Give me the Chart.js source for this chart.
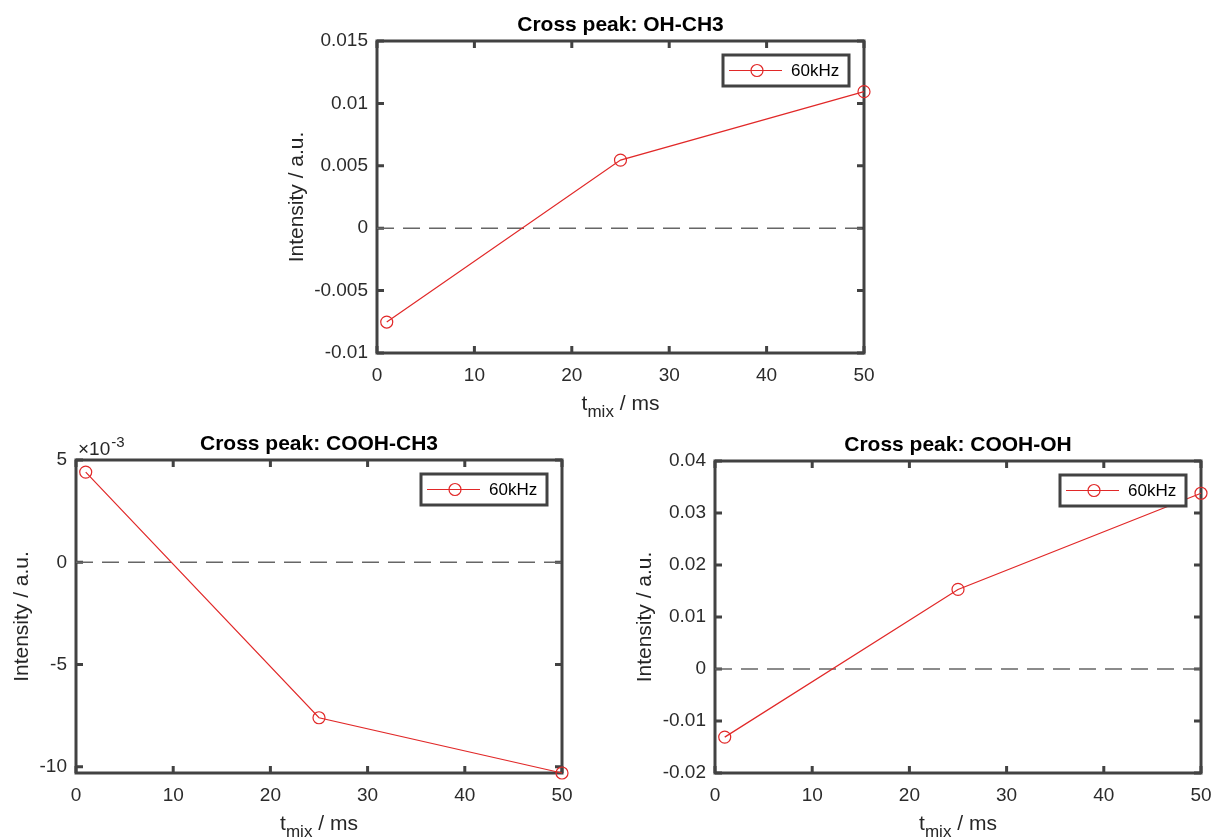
<!DOCTYPE html>
<html>
<head>
<meta charset="utf-8">
<script src="https://cdn.jsdelivr.net/npm/chart.js@4"></script>
<style>
  body { margin: 0; background: #fff; }
  canvas { position: absolute; }
</style>
</head>
<body>
<canvas id="c1" width="620" height="420" style="left:270px;top:0px"></canvas>
<canvas id="c2" width="600" height="415" style="left:0px;top:425px"></canvas>
<canvas id="c3" width="605" height="415" style="left:610px;top:425px"></canvas>
<script>
// mixing times (ms)
const tMix = [1, 25, 50];

// cross peak intensities, 60kHz
const ohCh3 = [-0.00752, 0.00546, 0.01094];
const coohCh3 = [0.00441, -0.0076, -0.0103];
const coohOh = [-0.0131, 0.0153, 0.0338];

const xTicks = [0, 10, 20, 30, 40, 50];
const xLabels = ['0', '10', '20', '30', '40', '50'];

const yTicksOhCh3 = [-0.01, -0.005, 0, 0.005, 0.01, 0.015];
const yLabelsOhCh3 = ['-0.01', '-0.005', '0', '0.005', '0.01', '0.015'];
const yTicksCoohCh3 = [-0.01, -0.005, 0, 0.005];
const yLabelsCoohCh3 = ['-10', '-5', '0', '5'];
const yTicksCoohOh = [-0.02, -0.01, 0, 0.01, 0.02, 0.03, 0.04];
const yLabelsCoohOh = ['-0.02', '-0.01', '0', '0.01', '0.02', '0.03', '0.04'];

const FONT = 'Liberation Sans, Arial, Helvetica, sans-serif';
const FRAME = '#424242';
const RED = 'rgb(225, 40, 40)';
const TICK = 7;

Chart.defaults.font.family = FONT;

// MATLAB-style box, inner ticks, title, labels and legend
const matlabAxes = {
  id: 'matlabAxes',
  beforeDatasetsDraw(chart) {
    const { ctx, chartArea: a, scales: { x, y } } = chart;
    ctx.save();
    ctx.strokeStyle = FRAME;
    ctx.lineWidth = 3;
    ctx.beginPath();
    x.ticks.forEach(t => {
      const px = x.getPixelForValue(t.value);
      ctx.moveTo(px, a.bottom); ctx.lineTo(px, a.bottom - TICK);
      ctx.moveTo(px, a.top); ctx.lineTo(px, a.top + TICK);
    });
    y.ticks.forEach(t => {
      const py = y.getPixelForValue(t.value);
      ctx.moveTo(a.left, py); ctx.lineTo(a.left + TICK, py);
      ctx.moveTo(a.right, py); ctx.lineTo(a.right - TICK, py);
    });
    ctx.stroke();
    ctx.strokeRect(a.left, a.top, a.right - a.left, a.bottom - a.top);
    ctx.restore();
  },
  afterDatasetsDraw(chart, args, o) {
    const { ctx, chartArea: a, scales: { y } } = chart;
    const cx = (a.left + a.right) / 2;
    ctx.save();

    // title
    ctx.fillStyle = '#000';
    ctx.font = 'bold 21px ' + FONT;
    ctx.textAlign = 'center';
    ctx.textBaseline = 'alphabetic';
    ctx.fillText(o.title, cx, a.top - 10);

    // x label: t_mix / ms
    ctx.fillStyle = '#262626';
    ctx.textAlign = 'left';
    ctx.font = '21px ' + FONT;
    const w1 = ctx.measureText('t').width;
    const w3 = ctx.measureText(' / ms').width;
    ctx.font = '17px ' + FONT;
    const w2 = ctx.measureText('mix').width;
    let sx = cx - (w1 + w2 + w3) / 2;
    const by = a.bottom + 57;
    ctx.font = '21px ' + FONT;
    ctx.fillText('t', sx, by);
    ctx.font = '17px ' + FONT;
    ctx.fillText('mix', sx + w1, by + 7);
    ctx.font = '21px ' + FONT;
    ctx.fillText(' / ms', sx + w1 + w2, by);

    // y label
    ctx.font = '19px ' + FONT;
    const maxW = Math.max(...y.ticks.map(t => ctx.measureText(t.label).width));
    ctx.translate(a.left - maxW - 26, (a.top + a.bottom) / 2);
    ctx.rotate(-Math.PI / 2);
    ctx.font = '21px ' + FONT;
    ctx.textAlign = 'center';
    ctx.textBaseline = 'middle';
    ctx.fillText('Intensity / a.u.', 0, 0);
    ctx.setTransform(1, 0, 0, 1, 0, 0);

    // exponent
    if (o.exponent) {
      ctx.textAlign = 'left';
      ctx.textBaseline = 'alphabetic';
      ctx.font = '19px ' + FONT;
      ctx.fillText('\u00d710', a.left + 2, a.top - 5);
      const ew = ctx.measureText('\u00d710').width;
      ctx.font = '15px ' + FONT;
      ctx.fillText(o.exponent, a.left + 3 + ew, a.top - 13);
    }

    // legend
    const lw = 126, lh = 31;
    const lx = a.right - 15 - lw, ly = a.top + 14;
    const ly0 = ly + lh / 2;
    ctx.fillStyle = '#fff';
    ctx.fillRect(lx, ly, lw, lh);
    ctx.strokeStyle = FRAME;
    ctx.lineWidth = 3;
    ctx.strokeRect(lx, ly, lw, lh);
    ctx.strokeStyle = RED;
    ctx.lineWidth = 1.2;
    ctx.beginPath();
    ctx.moveTo(lx + 6, ly0); ctx.lineTo(lx + 59, ly0);
    ctx.stroke();
    ctx.beginPath();
    ctx.arc(lx + 34, ly0, 6, 0, Math.PI * 2);
    ctx.stroke();
    ctx.fillStyle = '#000';
    ctx.font = '17px ' + FONT;
    ctx.textAlign = 'left';
    ctx.textBaseline = 'middle';
    ctx.fillText(o.legend, lx + 68, ly0 + 1);
    ctx.restore();
  }
};

function makeChart(id, values, yTicks, yLabels, yMin, yMax, yWidth, pad, opts) {
  const zeroLine = [{ x: xTicks[0], y: 0 }, { x: xTicks[xTicks.length - 1], y: 0 }];
  return new Chart(document.getElementById(id), {
    type: 'line',
    data: {
      datasets: [
        {
          label: '60kHz',
          data: tMix.map((t, i) => ({ x: t, y: values[i] })),
          borderColor: RED,
          borderWidth: 1.2,
          pointStyle: 'circle',
          pointRadius: 6,
          pointBorderWidth: 1.2,
          pointBorderColor: RED,
          pointBackgroundColor: 'rgba(0,0,0,0)',
          clip: false
        },
        {
          label: 'zero',
          data: zeroLine,
          borderColor: '#666',
          borderWidth: 1.5,
          borderDash: [17, 9],
          pointRadius: 0
        }
      ]
    },
    options: {
      responsive: false,
      animation: false,
      devicePixelRatio: 1,
      layout: { padding: pad },
      scales: {
        x: {
          type: 'linear',
          min: xTicks[0],
          max: xTicks[xTicks.length - 1],
          afterBuildTicks: s => { s.ticks = xTicks.map(v => ({ value: v })); },
          afterFit: s => { s.height = 40; s.paddingLeft = 0; s.paddingRight = 0; },
          grid: { display: false, drawTicks: false },
          border: { display: false },
          ticks: {
            autoSkip: false,
            maxRotation: 0,
            padding: 11,
            color: '#2b2b2b',
            font: { size: 19 },
            callback: (v, i) => xLabels[i]
          }
        },
        y: {
          type: 'linear',
          min: yMin,
          max: yMax,
          afterBuildTicks: s => { s.ticks = yTicks.map(v => ({ value: v })); },
          afterFit: s => { s.width = yWidth; s.paddingTop = 0; s.paddingBottom = 0; },
          grid: { display: false, drawTicks: false },
          border: { display: false },
          ticks: {
            autoSkip: false,
            padding: 9,
            color: '#2b2b2b',
            font: { size: 19 },
            callback: (v, i) => yLabels[i]
          }
        }
      },
      plugins: {
        legend: { display: false },
        tooltip: { enabled: false },
        matlabAxes: opts
      }
    },
    plugins: [matlabAxes]
  });
}

makeChart('c1', ohCh3, yTicksOhCh3, yLabelsOhCh3, -0.01, 0.015, 70,
  { left: 37, right: 26, top: 41, bottom: 27 },
  { title: 'Cross peak: OH-CH3', legend: '60kHz' });

makeChart('c2', coohCh3, yTicksCoohCh3, yLabelsCoohCh3, -0.0103, 0.005, 50,
  { left: 26, right: 38, top: 35, bottom: 27 },
  { title: 'Cross peak: COOH-CH3', legend: '60kHz', exponent: '-3' });

makeChart('c3', coohOh, yTicksCoohOh, yLabelsCoohOh, -0.02, 0.04, 70,
  { left: 35, right: 14, top: 36, bottom: 27 },
  { title: 'Cross peak: COOH-OH', legend: '60kHz' });
</script>
</body>
</html>
